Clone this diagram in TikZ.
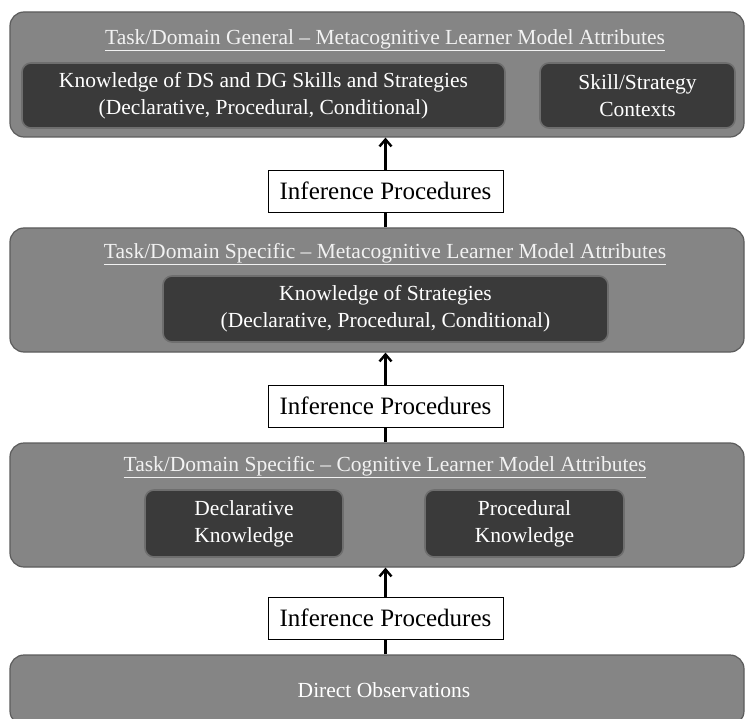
\documentclass[tikz,border=0pt]{standalone}
\usepackage{fontspec}
\setmainfont{Liberation Serif}
\usetikzlibrary{arrows.meta}

\definecolor{bandgray}{HTML}{858585}
\definecolor{bandedge}{HTML}{5C5C5C}
\definecolor{innerdark}{HTML}{3A3A3A}
\definecolor{inneredge}{HTML}{6E6E6E}
\definecolor{titlewhite}{HTML}{F2F2F2}

\begin{document}
\begin{tikzpicture}[x=1pt,y=-1pt,
    band/.style={draw=bandedge,line width=1.2pt,fill=bandgray,rounded corners=14pt,
      minimum width=734pt,inner sep=0pt},
    innerbox/.style={draw=inneredge,line width=1.6pt,fill=innerdark,rounded corners=9pt,
      text=white,align=center,inner sep=0pt,font=\fontsize{21.5}{27}\selectfont},
    bandtitle/.style={text=titlewhite,inner sep=0pt,font=\fontsize{21.5}{24}\selectfont},
    inferbox/.style={draw=black,fill=white,line width=0.8pt,minimum width=235pt,
      minimum height=42pt,inner sep=0pt,font=\fontsize{25}{27}\selectfont},
    uparrow/.style={-{Straight Barb[length=7pt,width=12pt,line width=2.4pt]},line width=2.6pt}]
  \useasboundingbox (0,0) rectangle (746,719);

  % the four bands
  \node [band,minimum height=125pt] (general) at (377,74.5) {};
  \node [band,minimum height=124pt] (metaspec) at (377,290) {};
  \node [band,minimum height=124pt] (cogspec) at (377,505) {};
  \node [band,minimum height=70pt,text=white,font=\fontsize{21.5}{24}\selectfont] (observ) at (377,690) {\hspace*{14pt}Direct Observations};

  % titles
  \node [bandtitle] (gentitle) at (385,40) {\underline{Task/Domain General -- Metacognitive Learner Model Attributes}};
  \node [bandtitle] (metatitle) at (385,254) {\underline{Task/Domain Specific -- Metacognitive Learner Model Attributes}};
  \node [bandtitle] (cogtitle) at (385,467) {\underline{Task/Domain Specific -- Cognitive Learner Model Attributes}};

  % inner boxes
  \node [innerbox,minimum width=483pt,minimum height=65pt] (dsdg) at (263.5,95.5)
    {Knowledge of DS and DG Skills and Strategies\\(Declarative, Procedural, Conditional)};
  \node [innerbox,minimum width=195pt,minimum height=65pt] (contexts) at (637.5,95.5)
    {Skill/Strategy\\Contexts};
  \node [innerbox,minimum width=445pt,minimum height=66pt] (strategies) at (385.5,309)
    {Knowledge of Strategies\\(Declarative, Procedural, Conditional)};
  \node [innerbox,minimum width=198pt,minimum height=67pt] (declar) at (244,523.5)
    {Declarative\\Knowledge};
  \node [innerbox,minimum width=199pt,minimum height=67pt] (proced) at (524.5,523.5)
    {Procedural\\Knowledge};

  % inference steps
  \node [inferbox] (infer1) at (385.5,191) {Inference Procedures};
  \node [inferbox] (infer2) at (385.5,406) {Inference Procedures};
  \node [inferbox] (infer3) at (385.5,618) {Inference Procedures};

  \draw [line width=2.6pt] (metaspec.north -| infer1.south) -- (infer1.south);
  \draw [uparrow] (infer1.north) -- (general.south -| infer1.north);
  \draw [line width=2.6pt] (cogspec.north -| infer2.south) -- (infer2.south);
  \draw [uparrow] (infer2.north) -- (metaspec.south -| infer2.north);
  \draw [line width=2.6pt] (observ.north -| infer3.south) -- (infer3.south);
  \draw [uparrow] (infer3.north) -- (cogspec.south -| infer3.north);
\end{tikzpicture}
\end{document}
